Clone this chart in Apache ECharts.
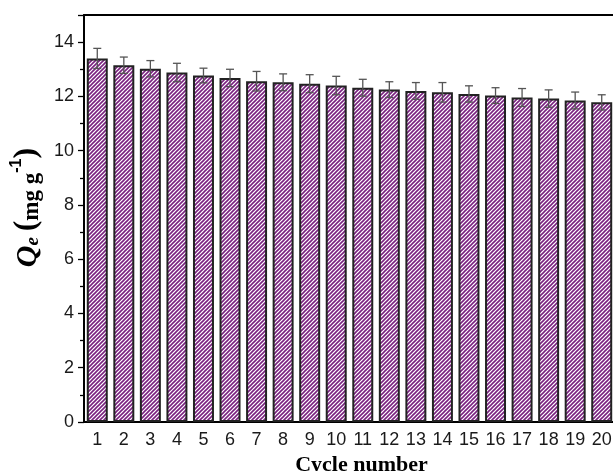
<!DOCTYPE html>
<html>
<head>
<meta charset="utf-8">
<script src="https://cdn.jsdelivr.net/npm/echarts@6/dist/echarts.min.js"></script>
<style>
html,body{margin:0;padding:0;background:#fff;}
#chartMain{width:613px;height:471px;}
</style>
</head>
<body>
<div id="chartMain"></div>
<script>
// data
var cycles = ['1','2','3','4','5','6','7','8','9','10','11','12','13','14','15','16','17','18','19','20'];
var qeValues = [13.40, 13.15, 13.02, 12.88, 12.77, 12.68, 12.56, 12.52, 12.47, 12.40, 12.32, 12.25, 12.20, 12.15, 12.09, 12.03, 11.96, 11.92, 11.85, 11.78];
var qeErrors = [0.37, 0.30, 0.30, 0.34, 0.27, 0.32, 0.36, 0.31, 0.33, 0.34, 0.31, 0.29, 0.31, 0.36, 0.30, 0.29, 0.33, 0.32, 0.31, 0.28];
var yTicks = [0, 2, 4, 6, 8, 10, 12, 14];

var chart = echarts.init(document.getElementById("chartMain"));

// hatch pattern for the bars
function makeHatch(){
	var c = document.createElement('canvas');
	c.width = 4;
	c.height = 4;
	var ctx = c.getContext('2d');
	ctx.fillStyle = '#ffffff';
	ctx.fillRect(0, 0, 4, 4);
	ctx.strokeStyle = '#7a2180';
	ctx.lineWidth = 1.6;
	ctx.beginPath();
	ctx.moveTo(0, 4); ctx.lineTo(4, 0);
	ctx.moveTo(-1, 1); ctx.lineTo(1, -1);
	ctx.moveTo(3, 5); ctx.lineTo(5, 3);
	ctx.stroke();
	return c;
}

var errData = [];
for(var i=0;i<cycles.length;i++){
	errData.push([i, qeValues[i] - qeErrors[i], qeValues[i] + qeErrors[i]]);
}

function renderErr(params, api){
	var x = api.value(0);
	var lo = api.coord([x, api.value(1)]);
	var hi = api.coord([x, api.value(2)]);
	var half = 4;
	var st = {stroke: '#555555', lineWidth: 1.3};
	return {
		type: 'group',
		children: [
			{type: 'line', shape: {x1: hi[0], y1: hi[1], x2: lo[0], y2: lo[1]}, style: st},
			{type: 'line', shape: {x1: hi[0]-half, y1: hi[1], x2: hi[0]+half, y2: hi[1]}, style: st},
			{type: 'line', shape: {x1: lo[0]-half, y1: lo[1], x2: lo[0]+half, y2: lo[1]}, style: st}
		]
	};
}

var labelFont = {fontFamily: 'Liberation Sans, Arial', fontSize: 18, color: '#1a1a1a'};

var option = {
	backgroundColor: '#fff',
	animation: false,
	grid: {left: 84, right: -2, top: 15, bottom: 49, outerBoundsMode: 'none', containLabel: false},
	xAxis: [
		{
			type: 'category',
			data: cycles,
			name: 'Cycle number',
			nameLocation: 'middle',
			nameGap: 26,
			nameTextStyle: {fontFamily: 'Liberation Serif, Times New Roman', fontWeight: 'bold', fontSize: 22, color: '#000', padding: [0, 0, 0, 24]},
			axisLine: {lineStyle: {color: '#000', width: 2}},
			axisTick: {inside: true, alignWithLabel: true, length: 6, lineStyle: {color: '#000', width: 1.3}},
			axisLabel: {margin: 9, fontFamily: labelFont.fontFamily, fontSize: labelFont.fontSize, color: labelFont.color},
			splitLine: {show: false}
		},
		{
			type: 'category',
			data: cycles,
			position: 'top',
			axisLine: {lineStyle: {color: '#000', width: 2}},
			axisTick: {show: false},
			axisLabel: {show: false}
		}
	],
	yAxis: {
		type: 'value',
		min: 0,
		max: 15,
		interval: 2,
		name: '{q|Q}{e|e}{t| }{p|(}{t|mg g}{s|-1}{p|)}',
		nameLocation: 'middle',
		nameGap: 40,
		nameRotate: 90,
		nameTextStyle: {
			padding: [0, 0, 0, 22],
			rich: {
				q: {fontFamily: 'Liberation Serif', fontStyle: 'italic', fontWeight: 'bold', fontSize: 30, color: '#000', verticalAlign: 'bottom', lineHeight: 34},
				e: {fontFamily: 'Liberation Serif', fontStyle: 'italic', fontWeight: 'bold', fontSize: 19, color: '#000', verticalAlign: 'bottom', lineHeight: 34},
				p: {fontFamily: 'Liberation Serif', fontWeight: 'bold', fontSize: 32, color: '#000', verticalAlign: 'bottom', lineHeight: 34},
				t: {fontFamily: 'Liberation Serif', fontWeight: 'bold', fontSize: 23, color: '#000', verticalAlign: 'bottom', lineHeight: 34},
				s: {fontFamily: 'Liberation Sans', fontWeight: 'bold', fontSize: 16, color: '#000', verticalAlign: 'top', lineHeight: 34}
			}
		},
		axisLine: {show: true, lineStyle: {color: '#000', width: 2}},
		axisTick: {show: true, length: 6, lineStyle: {color: '#000', width: 1.3}},
		minorTick: {show: true, splitNumber: 2, length: 4, lineStyle: {color: '#000', width: 1.3}},
		axisLabel: {
			margin: 10,
			fontFamily: labelFont.fontFamily,
			fontSize: labelFont.fontSize,
			color: labelFont.color,
			formatter: function(v){
				return yTicks.indexOf(v) >= 0 ? String(v) : '';
			}
		},
		splitLine: {show: false}
	},
	series: [
		{
			name: 'Qe',
			type: 'bar',
			barCategoryGap: '21%',
			itemStyle: {
				color: {image: makeHatch(), repeat: 'repeat'},
				borderColor: '#222',
				borderWidth: 2
			},
			data: qeValues,
			z: 2
		},
		{
			name: 'error',
			type: 'custom',
			renderItem: renderErr,
			data: errData,
			encode: {x: 0, y: [1, 2]},
			z: 3
		}
	]
};
chart.setOption(option);
</script>
</body>
</html>
